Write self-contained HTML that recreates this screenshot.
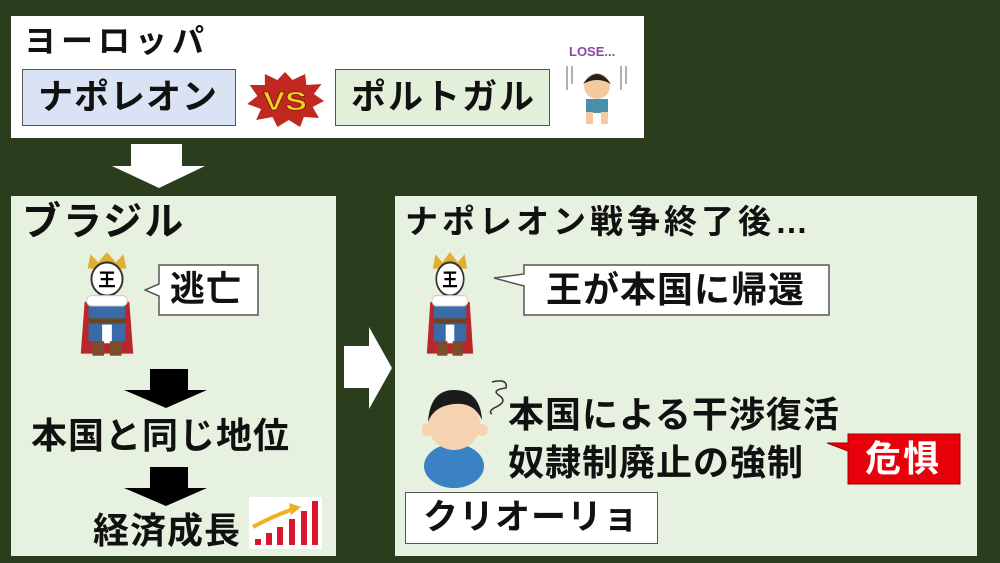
<!DOCTYPE html>
<html><head><meta charset="utf-8"><style>
body{margin:0;width:1000px;height:563px;background:#2a3d1c;position:relative;overflow:hidden;font-family:"Liberation Sans","Noto Sans CJK JP",sans-serif;font-weight:bold;color:#111}
.a{position:absolute;box-sizing:border-box}
.t{position:absolute;white-space:nowrap;line-height:1}
.bx{border:1.5px solid #555}
</style></head><body>
<div class="a" style="left:11px;top:16px;width:633px;height:122px;background:#fff"></div>
<div class="t" style="left:24px;top:25px;font-size:32px;letter-spacing:5px">ヨーロッパ</div>
<div class="a bx" style="left:22px;top:69px;width:214px;height:57px;background:#dae3f3"></div>
<div class="t" style="left:38px;top:80px;font-size:35px;letter-spacing:1px">ナポレオン</div>
<svg class="a" style="left:246px;top:70px" width="78" height="58" viewBox="0 0 62 58" preserveAspectRatio="none"><polygon points="31,2 37,10 47,4 48,15 60,14 54,24 62,31 53,37 58,48 46,47 43,57 34,50 25,57 21,47 8,50 12,39 1,34 9,26 3,15 15,15 15,4 25,10" fill="#c1281f"/><text x="31" y="40" text-anchor="middle" font-family="Liberation Sans" font-weight="bold" font-size="26" fill="#f5d21a" stroke="#7a1a10" stroke-width="0.8">VS</text></svg>
<div class="a bx" style="left:335px;top:69px;width:215px;height:57px;background:#e2f0d9"></div>
<div class="t" style="left:351px;top:80px;font-size:35px;letter-spacing:2px">ポルトガル</div>
<div class="t" style="left:569px;top:45px;font-size:13px;color:#8a4aa0">LOSE...</div>
<svg class="a" style="left:561px;top:62px" width="70" height="62"><g stroke="#999" stroke-width="1.5"><line x1="6" y1="4" x2="6" y2="28"/><line x1="11" y1="4" x2="11" y2="22"/><line x1="60" y1="4" x2="60" y2="28"/><line x1="65" y1="4" x2="65" y2="22"/></g><circle cx="36" cy="24" r="13" fill="#f4c9a0"/><path d="M22 22 Q36 2 50 22 Q36 14 22 22Z" fill="#222"/><rect x="25" y="37" width="22" height="14" fill="#4a8fa8"/><rect x="25" y="50" width="7" height="12" fill="#f4c9a0"/><rect x="40" y="50" width="7" height="12" fill="#f4c9a0"/></svg>
<svg class="a" style="left:112px;top:144px" width="94" height="45"><polygon points="19,0 70,0 70,22 93,22 47,44 0,22 19,22" fill="#fff"/></svg>
<div class="a" style="left:11px;top:196px;width:325px;height:360px;background:#e6f1df"></div>
<div class="t" style="left:22px;top:203px;font-size:39px;letter-spacing:2px">ブラジル</div>
<svg class="a" style="left:73px;top:250px" width="68" height="114" viewBox="0 0 70 110" preserveAspectRatio="none"><polygon points="15,18 18,4 26,12 35,2 44,12 52,4 55,18" fill="#e0b030"/><circle cx="35" cy="28" r="16" fill="#fff" stroke="#333" stroke-width="2"/><text x="35" y="35" text-anchor="middle" font-size="18" font-family="Noto Sans CJK JP" font-weight="bold">王</text><path d="M8 100 L12 50 L58 50 L62 100Z" fill="#b8282a"/><rect x="16" y="48" width="38" height="40" fill="#3a6aa8"/><rect x="14" y="44" width="42" height="10" rx="5" fill="#fff" stroke="#ccc"/><rect x="16" y="66" width="38" height="5" fill="#6b4520"/><rect x="30" y="72" width="10" height="18" fill="#fff"/><rect x="20" y="88" width="12" height="14" fill="#7a4e2a"/><rect x="38" y="88" width="12" height="14" fill="#7a4e2a"/></svg>
<svg class="a" style="left:144px;top:264px" width="116" height="53"><polygon points="15,1 114,1 114,51 15,51 15,32 1,26 15,20" fill="#fff" stroke="#555" stroke-width="1.5"/></svg>
<div class="t" style="left:170px;top:272px;font-size:35px;letter-spacing:1px">逃亡</div>
<svg class="a" style="left:124px;top:369px" width="84" height="40"><polygon points="26,0 64,0 64,21 83,21 42,39 0,21 26,21" fill="#000"/></svg>
<div class="t" style="left:31px;top:418px;font-size:36px;letter-spacing:1px">本国と同じ地位</div>
<svg class="a" style="left:124px;top:467px" width="84" height="40"><polygon points="26,0 64,0 64,21 83,21 42,39 0,21 26,21" fill="#000"/></svg>
<div class="t" style="left:93px;top:513px;font-size:36px;letter-spacing:1px">経済成長</div>
<svg class="a" style="left:249px;top:497px" width="73" height="52"><rect width="73" height="52" fill="#fff"/><g fill="#d8182c"><rect x="6" y="42" width="6" height="6"/><rect x="17" y="36" width="6" height="12"/><rect x="28" y="30" width="6" height="18"/><rect x="40" y="22" width="6" height="26"/><rect x="52" y="14" width="6" height="34"/><rect x="63" y="4" width="6" height="44"/></g><path d="M4 30 Q22 20 44 12" stroke="#f0b020" stroke-width="4" fill="none"/><polygon points="40,6 52,10 42,18" fill="#f0b020"/></svg>
<svg class="a" style="left:344px;top:327px" width="49" height="82"><polygon points="0,19 25,19 25,0 48,41 25,82 25,61 0,61" fill="#fff"/></svg>
<div class="a" style="left:395px;top:196px;width:582px;height:360px;background:#e6f1df"></div>
<div class="t" style="left:405px;top:205px;font-size:33px;letter-spacing:4px">ナポレオン戦争終了後…</div>
<svg class="a" style="left:420px;top:250px" width="60" height="114" viewBox="0 0 70 110" preserveAspectRatio="none"><polygon points="15,18 18,4 26,12 35,2 44,12 52,4 55,18" fill="#e0b030"/><circle cx="35" cy="28" r="16" fill="#fff" stroke="#333" stroke-width="2"/><text x="35" y="35" text-anchor="middle" font-size="18" font-family="Noto Sans CJK JP" font-weight="bold">王</text><path d="M8 100 L12 50 L58 50 L62 100Z" fill="#b8282a"/><rect x="16" y="48" width="38" height="40" fill="#3a6aa8"/><rect x="14" y="44" width="42" height="10" rx="5" fill="#fff" stroke="#ccc"/><rect x="16" y="66" width="38" height="5" fill="#6b4520"/><rect x="30" y="72" width="10" height="18" fill="#fff"/><rect x="20" y="88" width="12" height="14" fill="#7a4e2a"/><rect x="38" y="88" width="12" height="14" fill="#7a4e2a"/></svg>
<svg class="a" style="left:493px;top:264px" width="338" height="53"><polygon points="31,1 336,1 336,51 31,51 31,22 1,14 31,10" fill="#fff" stroke="#555" stroke-width="1.5"/></svg>
<div class="t" style="left:546px;top:272px;font-size:36px;letter-spacing:1px">王が本国に帰還</div>
<svg class="a" style="left:422px;top:378px" width="95" height="110"><path d="M70 4 Q86 0 84 10 Q68 12 78 18 Q86 24 72 30 Q66 34 70 36" stroke="#333" stroke-width="1.5" fill="none"/><ellipse cx="32" cy="88" rx="30" ry="22" fill="#3a82c4"/><circle cx="32" cy="46" r="26" fill="#f7d2b0"/><path d="M6 44 Q8 12 32 12 Q58 12 60 42 Q52 24 32 26 Q12 28 6 44Z" fill="#1b1b1b"/><circle cx="4" cy="52" r="6" fill="#f7d2b0"/><circle cx="60" cy="52" r="6" fill="#f7d2b0"/></svg>
<div class="t" style="left:508px;top:397px;font-size:36px;letter-spacing:1px">本国による干渉復活</div>
<div class="t" style="left:508px;top:445px;font-size:36px;letter-spacing:1px">奴隷制廃止の強制</div>
<svg class="a" style="left:826px;top:433px" width="136" height="52"><polygon points="22,1 134,1 134,51 22,51 22,18 1,10 22,10" fill="#e8000a" stroke="#900" stroke-width="1"/></svg>
<div class="t" style="left:865px;top:441px;font-size:36px;letter-spacing:2px;color:#fff">危惧</div>
<div class="a bx" style="left:405px;top:492px;width:253px;height:52px;background:#fff"></div>
<div class="t" style="left:423px;top:500px;font-size:35px;letter-spacing:1px">クリオーリョ</div>
</body></html>
